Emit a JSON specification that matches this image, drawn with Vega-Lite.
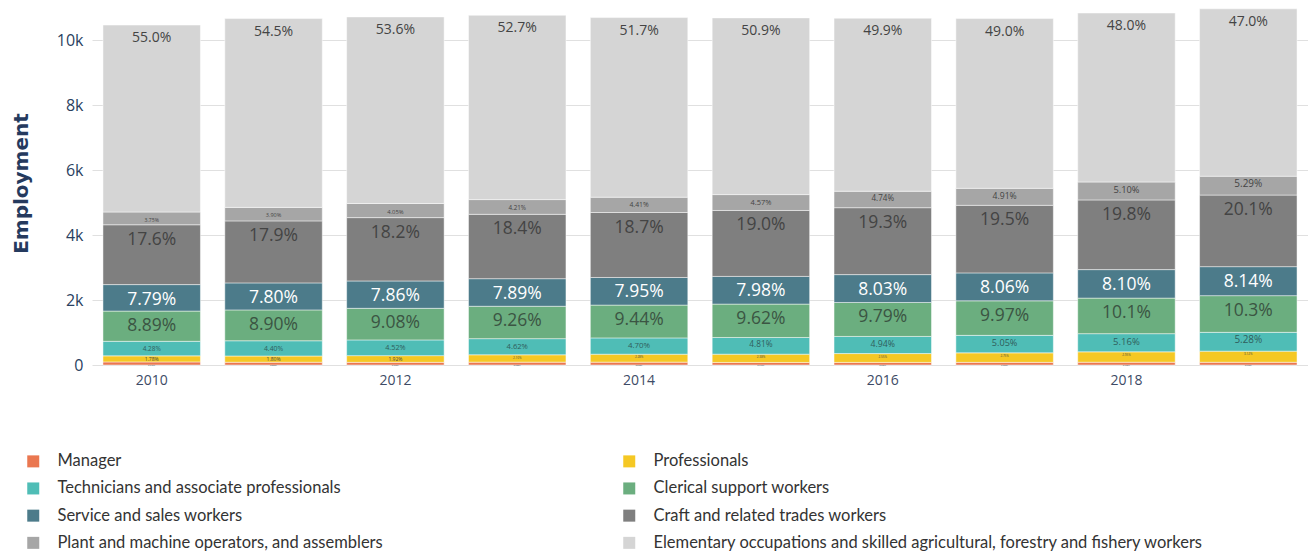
{
  "$schema": "https://vega.github.io/schema/vega-lite/v6.json",
  "width": 1216,
  "height": 364,
  "autosize": {"type": "none"},
  "padding": {"left": 92, "top": 1, "right": 0, "bottom": 187},
  "background": "white",
  "config": {"view": {"stroke": null}, "font": "Open Sans"},
  "datasets": {
    "emp": [
      {"year": 2010, "k": 1, "category": "Manager", "employment": 95, "share": 0.0091},
      {"year": 2010, "k": 2, "category": "Professionals", "employment": 186, "share": 0.0178},
      {"year": 2010, "k": 3, "category": "Technicians and associate professionals", "employment": 448, "share": 0.0428},
      {"year": 2010, "k": 4, "category": "Clerical support workers", "employment": 930, "share": 0.0889},
      {"year": 2010, "k": 5, "category": "Service and sales workers", "employment": 815, "share": 0.0779},
      {"year": 2010, "k": 6, "category": "Craft and related trades workers", "employment": 1841, "share": 0.176},
      {"year": 2010, "k": 7, "category": "Plant and machine operators, and assemblers", "employment": 392, "share": 0.0375},
      {"year": 2010, "k": 8, "category": "Elementary occupations and skilled agricultural, forestry and fishery workers", "employment": 5753, "share": 0.55},

      {"year": 2011, "k": 1, "category": "Manager", "employment": 85, "share": 0.008},
      {"year": 2011, "k": 2, "category": "Professionals", "employment": 192, "share": 0.018},
      {"year": 2011, "k": 3, "category": "Technicians and associate professionals", "employment": 469, "share": 0.044},
      {"year": 2011, "k": 4, "category": "Clerical support workers", "employment": 949, "share": 0.089},
      {"year": 2011, "k": 5, "category": "Service and sales workers", "employment": 831, "share": 0.078},
      {"year": 2011, "k": 6, "category": "Craft and related trades workers", "employment": 1908, "share": 0.179},
      {"year": 2011, "k": 7, "category": "Plant and machine operators, and assemblers", "employment": 416, "share": 0.039},
      {"year": 2011, "k": 8, "category": "Elementary occupations and skilled agricultural, forestry and fishery workers", "employment": 5810, "share": 0.545},

      {"year": 2012, "k": 1, "category": "Manager", "employment": 82, "share": 0.0077},
      {"year": 2012, "k": 2, "category": "Professionals", "employment": 206, "share": 0.0192},
      {"year": 2012, "k": 3, "category": "Technicians and associate professionals", "employment": 484, "share": 0.0452},
      {"year": 2012, "k": 4, "category": "Clerical support workers", "employment": 972, "share": 0.0908},
      {"year": 2012, "k": 5, "category": "Service and sales workers", "employment": 842, "share": 0.0786},
      {"year": 2012, "k": 6, "category": "Craft and related trades workers", "employment": 1949, "share": 0.182},
      {"year": 2012, "k": 7, "category": "Plant and machine operators, and assemblers", "employment": 434, "share": 0.0405},
      {"year": 2012, "k": 8, "category": "Elementary occupations and skilled agricultural, forestry and fishery workers", "employment": 5741, "share": 0.536},

      {"year": 2013, "k": 1, "category": "Manager", "employment": 88, "share": 0.0082},
      {"year": 2013, "k": 2, "category": "Professionals", "employment": 226, "share": 0.021},
      {"year": 2013, "k": 3, "category": "Technicians and associate professionals", "employment": 497, "share": 0.0462},
      {"year": 2013, "k": 4, "category": "Clerical support workers", "employment": 996, "share": 0.0926},
      {"year": 2013, "k": 5, "category": "Service and sales workers", "employment": 849, "share": 0.0789},
      {"year": 2013, "k": 6, "category": "Craft and related trades workers", "employment": 1980, "share": 0.184},
      {"year": 2013, "k": 7, "category": "Plant and machine operators, and assemblers", "employment": 453, "share": 0.0421},
      {"year": 2013, "k": 8, "category": "Elementary occupations and skilled agricultural, forestry and fishery workers", "employment": 5671, "share": 0.527},

      {"year": 2014, "k": 1, "category": "Manager", "employment": 88, "share": 0.0082},
      {"year": 2014, "k": 2, "category": "Professionals", "employment": 244, "share": 0.0228},
      {"year": 2014, "k": 3, "category": "Technicians and associate professionals", "employment": 502, "share": 0.047},
      {"year": 2014, "k": 4, "category": "Clerical support workers", "employment": 1009, "share": 0.0944},
      {"year": 2014, "k": 5, "category": "Service and sales workers", "employment": 850, "share": 0.0795},
      {"year": 2014, "k": 6, "category": "Craft and related trades workers", "employment": 1999, "share": 0.187},
      {"year": 2014, "k": 7, "category": "Plant and machine operators, and assemblers", "employment": 471, "share": 0.0441},
      {"year": 2014, "k": 8, "category": "Elementary occupations and skilled agricultural, forestry and fishery workers", "employment": 5527, "share": 0.517},

      {"year": 2015, "k": 1, "category": "Manager", "employment": 79, "share": 0.0074},
      {"year": 2015, "k": 2, "category": "Professionals", "employment": 254, "share": 0.0238},
      {"year": 2015, "k": 3, "category": "Technicians and associate professionals", "employment": 514, "share": 0.0481},
      {"year": 2015, "k": 4, "category": "Clerical support workers", "employment": 1027, "share": 0.0962},
      {"year": 2015, "k": 5, "category": "Service and sales workers", "employment": 852, "share": 0.0798},
      {"year": 2015, "k": 6, "category": "Craft and related trades workers", "employment": 2029, "share": 0.19},
      {"year": 2015, "k": 7, "category": "Plant and machine operators, and assemblers", "employment": 488, "share": 0.0457},
      {"year": 2015, "k": 8, "category": "Elementary occupations and skilled agricultural, forestry and fishery workers", "employment": 5437, "share": 0.509},

      {"year": 2016, "k": 1, "category": "Manager", "employment": 80, "share": 0.0075},
      {"year": 2016, "k": 2, "category": "Professionals", "employment": 272, "share": 0.0255},
      {"year": 2016, "k": 3, "category": "Technicians and associate professionals", "employment": 527, "share": 0.0494},
      {"year": 2016, "k": 4, "category": "Clerical support workers", "employment": 1045, "share": 0.0979},
      {"year": 2016, "k": 5, "category": "Service and sales workers", "employment": 857, "share": 0.0803},
      {"year": 2016, "k": 6, "category": "Craft and related trades workers", "employment": 2059, "share": 0.193},
      {"year": 2016, "k": 7, "category": "Plant and machine operators, and assemblers", "employment": 506, "share": 0.0474},
      {"year": 2016, "k": 8, "category": "Elementary occupations and skilled agricultural, forestry and fishery workers", "employment": 5324, "share": 0.499},

      {"year": 2017, "k": 1, "category": "Manager", "employment": 81, "share": 0.0076},
      {"year": 2017, "k": 2, "category": "Professionals", "employment": 293, "share": 0.0275},
      {"year": 2017, "k": 3, "category": "Technicians and associate professionals", "employment": 538, "share": 0.0505},
      {"year": 2017, "k": 4, "category": "Clerical support workers", "employment": 1063, "share": 0.0997},
      {"year": 2017, "k": 5, "category": "Service and sales workers", "employment": 859, "share": 0.0806},
      {"year": 2017, "k": 6, "category": "Craft and related trades workers", "employment": 2079, "share": 0.195},
      {"year": 2017, "k": 7, "category": "Plant and machine operators, and assemblers", "employment": 523, "share": 0.0491},
      {"year": 2017, "k": 8, "category": "Elementary occupations and skilled agricultural, forestry and fishery workers", "employment": 5224, "share": 0.49},

      {"year": 2018, "k": 1, "category": "Manager", "employment": 86, "share": 0.0079},
      {"year": 2018, "k": 2, "category": "Professionals", "employment": 319, "share": 0.0295},
      {"year": 2018, "k": 3, "category": "Technicians and associate professionals", "employment": 559, "share": 0.0516},
      {"year": 2018, "k": 4, "category": "Clerical support workers", "employment": 1094, "share": 0.101},
      {"year": 2018, "k": 5, "category": "Service and sales workers", "employment": 877, "share": 0.081},
      {"year": 2018, "k": 6, "category": "Craft and related trades workers", "employment": 2144, "share": 0.198},
      {"year": 2018, "k": 7, "category": "Plant and machine operators, and assemblers", "employment": 552, "share": 0.051},
      {"year": 2018, "k": 8, "category": "Elementary occupations and skilled agricultural, forestry and fishery workers", "employment": 5199, "share": 0.48},

      {"year": 2019, "k": 1, "category": "Manager", "employment": 84, "share": 0.0077},
      {"year": 2019, "k": 2, "category": "Professionals", "employment": 342, "share": 0.0312},
      {"year": 2019, "k": 3, "category": "Technicians and associate professionals", "employment": 579, "share": 0.0528},
      {"year": 2019, "k": 4, "category": "Clerical support workers", "employment": 1129, "share": 0.103},
      {"year": 2019, "k": 5, "category": "Service and sales workers", "employment": 892, "share": 0.0814},
      {"year": 2019, "k": 6, "category": "Craft and related trades workers", "employment": 2203, "share": 0.201},
      {"year": 2019, "k": 7, "category": "Plant and machine operators, and assemblers", "employment": 580, "share": 0.0529},
      {"year": 2019, "k": 8, "category": "Elementary occupations and skilled agricultural, forestry and fishery workers", "employment": 5151, "share": 0.47}
    ]
  },
  "data": {"name": "emp"},
  "transform": [
    {"stack": "employment", "groupby": ["year"], "sort": [{"field": "k", "order": "ascending"}], "as": ["y0", "y1"]}
  ],
  "encoding": {
    "x": {
      "field": "year",
      "type": "ordinal",
      "scale": {"paddingInner": 0.2, "paddingOuter": 0.09},
      "axis": {
        "title": null,
        "values": [2010, 2012, 2014, 2016, 2018],
        "labelAngle": 0,
        "ticks": false,
        "domain": false,
        "labelFont": "Open Sans",
        "labelFontSize": 14,
        "labelColor": "#3d4b66",
        "labelPadding": 8
      }
    }
  },
  "layer": [
    {
      "mark": {"type": "bar", "stroke": "white", "strokeWidth": 0.8, "strokeOpacity": 0.6},
      "encoding": {
        "y": {
          "field": "y1",
          "type": "quantitative",
          "scale": {"domain": [0, 11200], "nice": false},
          "axis": {
            "title": "Employment",
            "titleFont": "DejaVu Sans",
            "titleFontWeight": "bold",
            "titleFontSize": 20,
            "titleColor": "#253a5e",
            "titlePadding": 25,
            "values": [0, 2000, 4000, 6000, 8000, 10000],
            "format": "~s",
            "labelExpr": "datum.value == 0 ? '0' : datum.label",
            "labelFont": "Open Sans",
            "labelFontSize": 16,
            "labelColor": "#2a3f5f",
            "labelPadding": 9,
            "ticks": false,
            "domain": false,
            "grid": true,
            "gridColor": "#e0e0e0",
            "gridWidth": 1
          }
        },
        "y2": {"field": "y0"},
        "color": {
          "field": "category",
          "type": "nominal",
          "scale": {
            "domain": [
              "Manager",
              "Professionals",
              "Technicians and associate professionals",
              "Clerical support workers",
              "Service and sales workers",
              "Craft and related trades workers",
              "Plant and machine operators, and assemblers",
              "Elementary occupations and skilled agricultural, forestry and fishery workers"
            ],
            "range": ["#ea7750", "#f5c824", "#4fbdb6", "#6bae7f", "#4c7b8a", "#7f7f7f", "#a6a6a6", "#d5d5d5"]
          },
          "legend": {
            "title": null,
            "orient": "none",
            "direction": "horizontal",
            "legendX": -67,
            "legendY": 452,
            "columns": 2,
            "columnPadding": 238,
            "rowPadding": 10.2,
            "padding": 0,
            "symbolType": "square",
            "symbolSize": 144,
            "symbolStrokeWidth": 0,
            "symbolOpacity": 1,
            "labelFont": "Lato",
            "labelFontSize": 16.5,
            "labelColor": "#333333",
            "labelOffset": 16,
            "labelLimit": 0
          }
        },
        "order": {"field": "k"}
      }
    },
    {
      "transform": [{"filter": "datum.k == 4 || datum.k == 5 || datum.k == 6 || datum.k == 8"}],
      "mark": {"type": "text", "baseline": "top", "align": "center", "dy": 6, "font": "Open Sans"},
      "encoding": {
        "y": {"field": "y1", "type": "quantitative"},
        "text": {"field": "share", "type": "quantitative", "format": ".3p"},
        "size": {
          "field": "share",
          "type": "quantitative",
          "legend": null,
          "scale": {"type": "linear", "zero": false, "nice": false, "clamp": true,
            "domain": [0, 0.01, 0.017, 0.0195, 0.0205, 0.035, 0.037, 0.043, 0.053, 0.075, 0.25, 0.45],
            "range": [2, 2, 5, 5, 3, 3, 5, 6.5, 10, 17.5, 17.5, 14]}
        },
        "color": {"condition": [{"test": "datum.k == 5", "value": "#ffffff"}, {"test": "datum.k == 4", "value": "#3b5543"}], "value": "#444444"}
      }
    },
    {
      "transform": [{"filter": "datum.k == 3 || datum.k == 7"}],
      "mark": {"type": "text", "baseline": "middle", "align": "center", "dy": 8, "font": "Open Sans"},
      "encoding": {
        "y": {"field": "y1", "type": "quantitative"},
        "text": {"field": "share", "type": "quantitative", "format": ".3p"},
        "size": {
          "field": "share",
          "type": "quantitative",
          "legend": null,
          "scale": {"type": "linear", "zero": false, "nice": false, "clamp": true,
            "domain": [0, 0.01, 0.017, 0.0195, 0.0205, 0.035, 0.037, 0.043, 0.053, 0.075, 0.25, 0.45],
            "range": [2, 2, 5, 5, 3, 3, 5, 6.5, 10, 17.5, 17.5, 14]}
        },
        "color": {"condition": {"test": "datum.k == 3", "value": "#2f5e5c"}, "value": "#444444"}
      }
    },
    {
      "transform": [{"filter": "datum.k == 1 || datum.k == 2"}],
      "mark": {"type": "text", "baseline": "middle", "align": "center", "dy": 3, "font": "Open Sans"},
      "encoding": {
        "y": {"field": "y1", "type": "quantitative"},
        "text": {"field": "share", "type": "quantitative", "format": ".3p"},
        "size": {
          "field": "share",
          "type": "quantitative",
          "legend": null,
          "scale": {"type": "linear", "zero": false, "nice": false, "clamp": true,
            "domain": [0, 0.01, 0.017, 0.0195, 0.0205, 0.035, 0.037, 0.043, 0.053, 0.075, 0.25, 0.45],
            "range": [2, 2, 5, 5, 3, 3, 5, 6.5, 10, 17.5, 17.5, 14]}
        },
        "color": {"value": "#444444"}
      }
    }
  ]
}
